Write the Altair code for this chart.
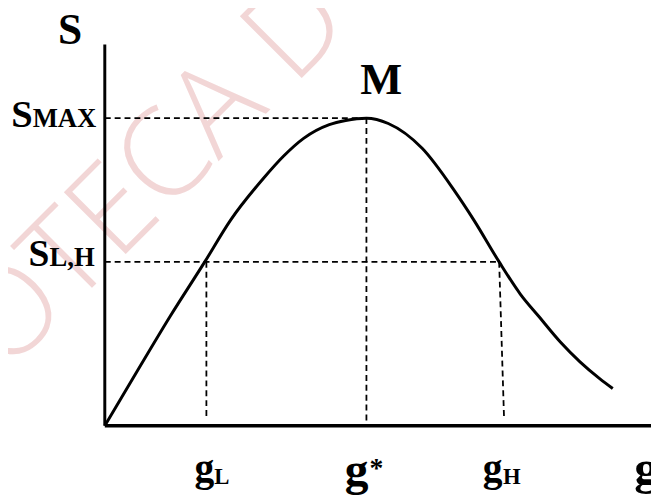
import altair as alt
import pandas as pd

# ---- data (arbitrary units: axes 0..10) ----
g_curve = [0.0, 0.60, 1.20, 1.83, 2.30, 2.91, 3.27, 3.64, 4.11, 4.41, 4.79,
           5.19, 5.81, 6.40, 6.76, 7.22, 7.61, 7.94, 8.34, 8.70, 9.06, 9.30]
s_curve = [0.0, 1.45, 2.88, 4.30, 5.39, 6.50, 7.07, 7.54, 7.90, 8.01, 8.07,
           7.93, 7.28, 6.17, 5.39, 4.30, 3.45, 2.88, 2.20, 1.68, 1.24, 0.98]

g_L, g_star, g_H_top, g_H_bot = 1.86, 4.79, 7.22, 7.31
s_max, s_LH = 8.07, 4.30
dash_x = [0.0, g_star, 0.0, g_L, g_H_top]
dash_x2 = [g_star, g_star, g_H_top, g_L, g_H_bot]
dash_y = [s_max, s_max, s_LH, s_LH, s_LH]
dash_y2 = [s_max, 0.08, s_LH, 0.26, 0.18]

X_MAX, Y_MAX = 10, 10
watermark_text = "OTECA D"
watermark_pos = (0.9, 6.6)

FONT = "Liberation Serif"

xs = alt.Scale(domain=[0, X_MAX], nice=False, zero=False)
ys = alt.Scale(domain=[0, Y_MAX], nice=False, zero=False)

curve_df = pd.DataFrame({"g": g_curve, "s": s_curve})
dash_df = pd.DataFrame({"x": dash_x, "x2": dash_x2, "y": dash_y, "y2": dash_y2})


def X(field):
    return alt.X(field, scale=xs, axis=None)


def Y(field):
    return alt.Y(field, scale=ys, axis=None)


wm = alt.Chart(pd.DataFrame({"x": [watermark_pos[0]], "y": [watermark_pos[1]],
                             "t": [watermark_text]})).mark_text(
    font="Open Sans", fontWeight=300, fontSize=124, angle=315,
    align="center", baseline="middle", color="#f2d6d6"
).encode(x=X("x:Q"), y=Y("y:Q"), text="t:N")

dashes = alt.Chart(dash_df).mark_rule(
    color="black", strokeWidth=1.8, strokeDash=[6, 4]
).encode(x=X("x:Q"), x2="x2:Q", y=Y("y:Q"), y2="y2:Q")

x_axis = alt.Chart(pd.DataFrame({"x": [0], "x2": [X_MAX], "y": [0]})).mark_rule(
    color="black", strokeWidth=3.5
).encode(x=X("x:Q"), x2="x2:Q", y=Y("y:Q"))

y_axis = alt.Chart(pd.DataFrame({"x": [0], "y": [0], "y2": [Y_MAX]})).mark_rule(
    color="black", strokeWidth=3
).encode(x=X("x:Q"), y=Y("y:Q"), y2="y2:Q")

curve = alt.Chart(curve_df).mark_line(
    color="black", strokeWidth=3, interpolate="monotone"
).encode(x=X("g:Q"), y=Y("s:Q"))


def label(text, x, y, dx, dy, size, align="left"):
    return alt.Chart(pd.DataFrame({"x": [x], "y": [y], "t": [text]})).mark_text(
        font=FONT, fontWeight="bold", fontSize=size, align=align,
        baseline="alphabetic", dx=dx, dy=dy, color="black"
    ).encode(x=X("x:Q"), y=Y("y:Q"), text="t:N")


labels = [
    label("S", 0, Y_MAX, -23, -1, 44, "right"),
    label("M", g_star, s_max, 15, -24, 45, "center"),
    label("S", 0, s_max, -73, 9, 39, "right"),
    label("MAX", 0, s_max, -73, 9, 27, "left"),
    label("S", 0, s_LH, -56, 4.5, 38, "right"),
    label("L,H", 0, s_LH, -56, 4.5, 27, "left"),
    label("g", g_L, 0, 8, 56, 40, "right"),
    label("L", g_L, 0, 8, 59, 23, "left"),
    label("g", g_star, 0, -22, 60, 48, "left"),
    label("*", g_star, 0, 3, 52, 28, "left"),
    label("g", g_H_bot, 0, -1.5, 56, 40, "right"),
    label("H", g_H_bot, 0, -1, 59, 23, "left"),
    label("g", X_MAX, 0, -17, 59, 50, "left"),
]

chart = alt.layer(wm, dashes, x_axis, y_axis, curve, *labels).properties(
    width=553, height=386,
    autosize=alt.AutoSizeParams(type="none"),
    padding={"left": 98, "top": 34, "right": 0, "bottom": 70},
    background="white",
).configure_view(strokeOpacity=0)

chart.save("out.html", embed_options={"renderer": "svg", "actions": False})
